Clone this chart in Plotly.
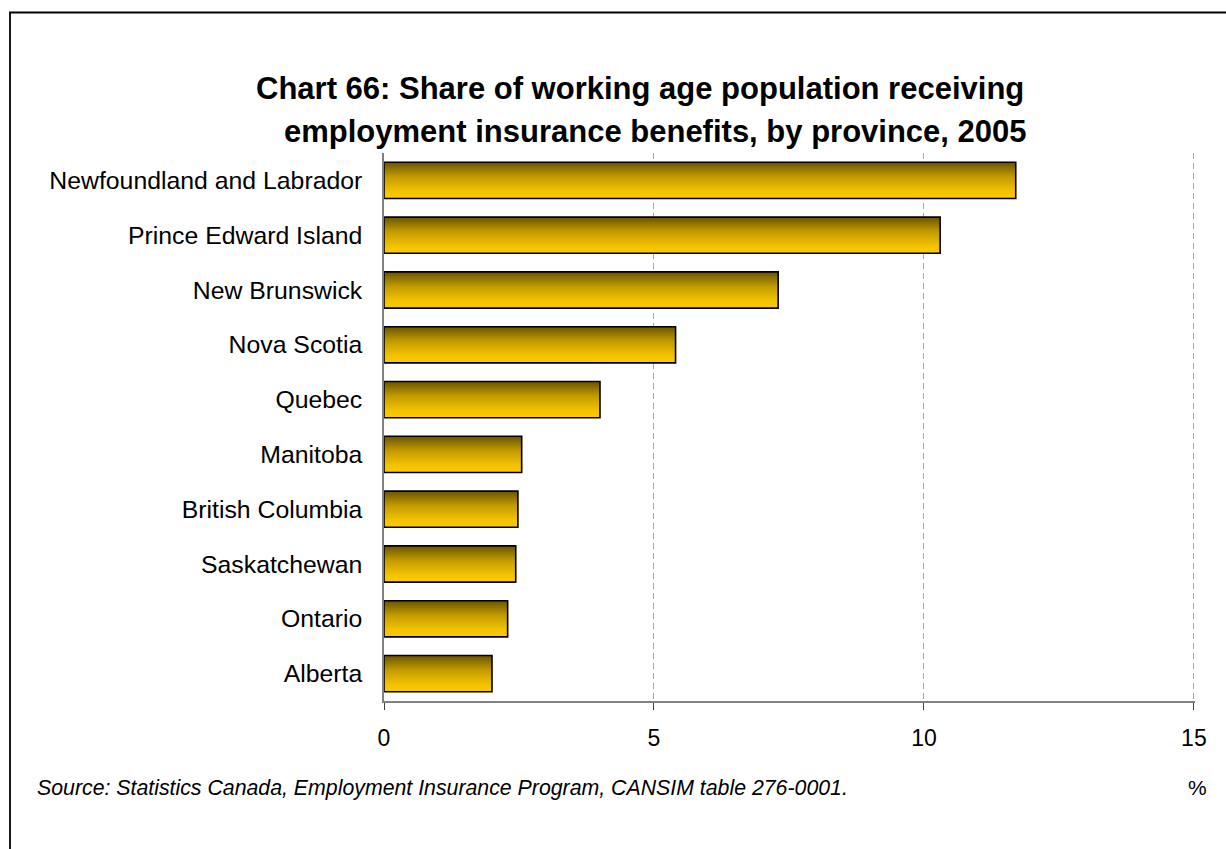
import plotly.graph_objects as go

# Provinces, listed from top to bottom
provinces = [
    "Newfoundland and Labrador",
    "Prince Edward Island",
    "New Brunswick",
    "Nova Scotia",
    "Quebec",
    "Manitoba",
    "British Columbia",
    "Saskatchewan",
    "Ontario",
    "Alberta",
]
# Share of working age population receiving EI benefits (%)
shares = [11.7, 10.3, 7.3, 5.4, 4.0, 2.55, 2.48, 2.44, 2.29, 2.0]

x_ticks = [0, 5, 10, 15]
x_tick_labels = ["0", "5", "10", "15"]

W, H = 1226, 849
M_L, M_R, M_T, M_B = 384, 31, 153, 148
PLOT_W = W - M_L - M_R
PLOT_H = H - M_T - M_B


def px_x(px):
    return (px - M_L) / PLOT_W


def px_y(py):
    return (H - M_B - py) / PLOT_H


FONT = "Liberation Sans, Arial, sans-serif"
HALF = 0.33
GOLD = [[0.0, "#fcca00"], [0.2, "#f3c300"], [0.6, "#c29b00"], [1.0, "#6a5400"]]

n = len(provinces)
fig = go.Figure()
for i, (name, val) in enumerate(zip(provinces, shares)):
    y = n - 1 - i
    fig.add_trace(go.Scatter(
        x=[0, val, val, 0, 0],
        y=[y - HALF, y - HALF, y + HALF, y + HALF, y - HALF],
        mode="lines",
        fill="toself",
        fillgradient=dict(type="vertical", colorscale=GOLD),
        line=dict(color="black", width=1.6),
        name=name,
        text=f"{name}: {val}%",
        hoverinfo="text",
        showlegend=False,
    ))

fig.update_layout(
    width=W, height=H,
    margin=dict(l=M_L, r=M_R, t=M_T, b=M_B, pad=0),
    paper_bgcolor="white",
    plot_bgcolor="white",
    font=dict(family=FONT, color="black"),
    xaxis=dict(
        range=[0, 15.02],
        tickvals=x_ticks,
        ticktext=x_tick_labels,
        tickfont=dict(size=23, family=FONT, color="black"),
        ticks="outside", ticklen=7, tickwidth=1.2, tickcolor="#404040",
        ticklabelstandoff=9,
        showline=True, linecolor="#808080", linewidth=1.5,
        showgrid=True, gridcolor="#a8a8a8", gridwidth=1, griddash="6px,4px",
        zeroline=False,
        fixedrange=True,
    ),
    yaxis=dict(
        range=[-0.5, n - 0.5],
        tickvals=list(range(n - 1, -1, -1)),
        ticktext=provinces,
        tickfont=dict(size=24.8, family=FONT, color="black"),
        ticks="",
        ticklabelstandoff=15,
        showline=True, linecolor="#808080", linewidth=1.5,
        showgrid=False, zeroline=False,
        fixedrange=True,
    ),
    shapes=[
        # outer chart frame
        dict(type="rect", xref="paper", yref="paper",
             x0=px_x(10), x1=px_x(W + 20), y0=px_y(H + 20), y1=px_y(12.5),
             line=dict(color="black", width=1.8), fillcolor="rgba(0,0,0,0)",
             layer="above"),
    ],
    annotations=[
        dict(text="<b>Chart 66: Share of working age population receiving</b>",
             xref="paper", yref="paper", x=px_x(640), y=px_y(88),
             xanchor="center", yanchor="middle", showarrow=False,
             font=dict(size=31, family=FONT, color="black")),
        dict(text="<b>employment insurance benefits, by province, 2005</b>",
             xref="paper", yref="paper", x=px_x(655), y=px_y(131),
             xanchor="center", yanchor="middle", showarrow=False,
             font=dict(size=31, family=FONT, color="black")),
        dict(text="<i>Source: Statistics Canada, Employment Insurance Program, "
                  "CANSIM table 276-0001.</i>",
             xref="paper", yref="paper", x=px_x(35), y=px_y(788),
             xanchor="left", yanchor="middle", showarrow=False,
             font=dict(size=21.3, family=FONT, color="black")),
        dict(text="%", xref="paper", yref="paper", x=px_x(1197), y=px_y(787),
             xanchor="center", yanchor="middle", showarrow=False,
             font=dict(size=21, family=FONT, color="black")),
    ],
)

fig.write_html("out.html")
